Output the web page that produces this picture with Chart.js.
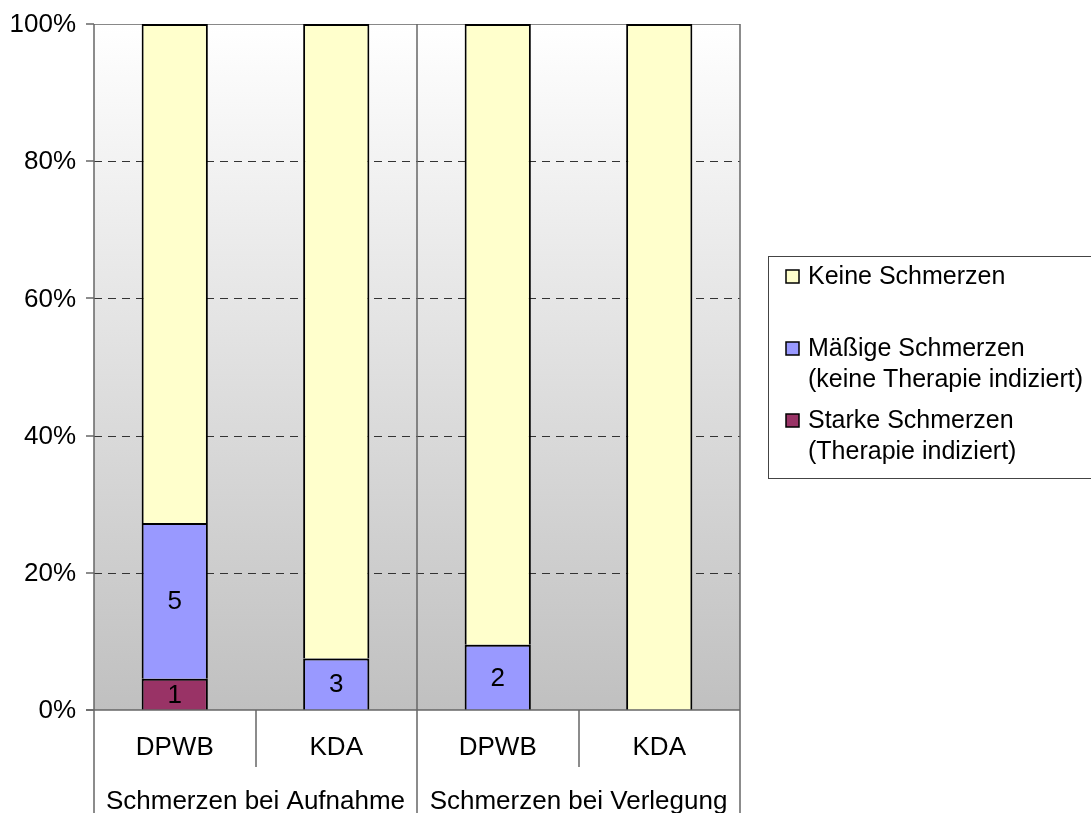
<!DOCTYPE html>
<html>
<head>
<meta charset="utf-8">
<script src="https://cdn.jsdelivr.net/npm/chart.js@4/dist/chart.umd.min.js"></script>
<style>
  html, body { margin: 0; padding: 0; background: #fff; }
  #wrap { width: 1091px; height: 813px; }
</style>
</head>
<body>
<div id="wrap"><canvas id="painChart" width="1091" height="813"></canvas></div>
<script>
// patient counts per group (bottom to top of each stack)
const categories = ['DPWB', 'KDA', 'DPWB', 'KDA'];
const groups = ['Schmerzen bei Aufnahme', 'Schmerzen bei Verlegung'];
const starke = [1, 0, 0, 0];
const maessige = [5, 3, 2, 0];
const keine = [16, 37, 19, 40];
const yTicks = [0, 20, 40, 60, 80, 100];

const FONT = '"Liberation Sans", Arial, sans-serif';
const totals = categories.map((_, i) => starke[i] + maessige[i] + keine[i]);
const pct = arr => arr.map((v, i) => v / totals[i] * 100);

const legendItems = [
  { color: '#FFFFCC', lines: ['Keine Schmerzen'], y: 277 },
  { color: '#9999FF', lines: ['Mäßige Schmerzen', '(keine Therapie indiziert)'], y: 349 },
  { color: '#993366', lines: ['Starke Schmerzen', '(Therapie indiziert)'], y: 421 }
];

function setText(ctx, size) {
  ctx.font = size + 'px ' + FONT;
  ctx.fillStyle = '#000';
  ctx.textBaseline = 'middle';
}

// gradient plot background, grid lines and axis frame
const backdrop = {
  id: 'backdrop',
  beforeDatasetsDraw(chart) {
    const { ctx, chartArea: a, scales: { y } } = chart;
    ctx.save();
    const g = ctx.createLinearGradient(0, a.top, 0, a.bottom);
    g.addColorStop(0, '#ffffff');
    g.addColorStop(1, '#c0c0c0');
    ctx.fillStyle = g;
    ctx.fillRect(a.left, a.top, a.right - a.left, a.bottom - a.top);

    ctx.lineWidth = 1;
    ctx.strokeStyle = '#333';
    ctx.setLineDash([8, 6]);
    yTicks.slice(1, -1).forEach(t => {
      const py = Math.round(y.getPixelForValue(t)) + 0.5;
      ctx.beginPath();
      ctx.moveTo(a.left, py);
      ctx.lineTo(a.right, py);
      ctx.stroke();
    });
    ctx.setLineDash([]);

    ctx.strokeStyle = '#888';
    const top = Math.round(a.top) + 0.5;
    ctx.beginPath();
    ctx.moveTo(a.left, top);
    ctx.lineTo(a.right, top);
    ctx.stroke();
    ctx.restore();
  },
  afterDatasetsDraw(chart) {
    const { ctx, chartArea: a, scales: { x, y } } = chart;
    const H = chart.height;
    ctx.save();
    ctx.strokeStyle = '#666';
    ctx.lineWidth = 1.5;
    // group separators run through the plot and down past the labels
    const step = x.getPixelForValue(1) - x.getPixelForValue(0);
    const edges = [a.left, x.getPixelForValue(1) + step / 2, a.right];
    edges.forEach(px => {
      ctx.beginPath();
      ctx.moveTo(Math.round(px), a.top);
      ctx.lineTo(Math.round(px), H);
      ctx.stroke();
    });
    // short separators between the categories inside a group
    [0, 2].forEach(i => {
      const px = Math.round(x.getPixelForValue(i) + step / 2);
      ctx.beginPath();
      ctx.moveTo(px, a.bottom);
      ctx.lineTo(px, a.bottom + 57);
      ctx.stroke();
    });
    // x axis and y tick marks
    ctx.beginPath();
    ctx.moveTo(a.left - 8, a.bottom);
    ctx.lineTo(a.right, a.bottom);
    ctx.stroke();
    yTicks.forEach(t => {
      const py = Math.round(y.getPixelForValue(t));
      ctx.beginPath();
      ctx.moveTo(a.left - 8, py);
      ctx.lineTo(a.left, py);
      ctx.stroke();
    });

    setText(ctx, 26);
    // y tick labels
    ctx.textAlign = 'right';
    yTicks.forEach(t => {
      ctx.fillText(t + '%', a.left - 18, y.getPixelForValue(t) + 1);
    });

    // count labels on the pain segments
    ctx.textAlign = 'center';
    [0, 1].forEach(di => {
      const counts = di === 0 ? starke : maessige;
      chart.getDatasetMeta(di).data.forEach((bar, i) => {
        if (!counts[i]) return;
        ctx.fillText(String(counts[i]), bar.x, (bar.y + bar.base) / 2 + 1);
      });
    });

    // category and group labels
    categories.forEach((c, i) => {
      ctx.fillText(c, x.getPixelForValue(i), a.bottom + 38);
    });
    groups.forEach((g, gi) => {
      const cx = (x.getPixelForValue(gi * 2) + x.getPixelForValue(gi * 2 + 1)) / 2;
      ctx.fillText(g, cx, a.bottom + 92);
    });
    ctx.restore();
  },
  afterDraw(chart) {
    const { ctx } = chart;
    ctx.save();
    ctx.fillStyle = '#fff';
    ctx.fillRect(768, 256, 340, 222);
    ctx.strokeStyle = '#444';
    ctx.lineWidth = 1;
    ctx.strokeRect(768.5, 256.5, 340, 222);
    legendItems.forEach(item => {
      ctx.fillStyle = item.color;
      ctx.fillRect(786, item.y - 7, 13, 13);
      ctx.strokeStyle = '#000';
      ctx.lineWidth = 1.5;
      ctx.strokeRect(786, item.y - 7, 13, 13);
      setText(ctx, 25);
      ctx.textAlign = 'left';
      item.lines.forEach((line, li) => {
        ctx.fillText(line, 808, item.y + li * 31);
      });
    });
    ctx.restore();
  }
};

const segBorder = { top: 2, left: 2, right: 2, bottom: 0 };

new Chart(document.getElementById('painChart'), {
  type: 'bar',
  data: {
    labels: categories,
    datasets: [
      { label: 'Starke Schmerzen (Therapie indiziert)', data: pct(starke), backgroundColor: '#993366' },
      { label: 'Mäßige Schmerzen (keine Therapie indiziert)', data: pct(maessige), backgroundColor: '#9999FF' },
      { label: 'Keine Schmerzen', data: pct(keine), backgroundColor: '#FFFFCC' }
    ].map(d => Object.assign(d, {
      borderColor: '#000',
      borderWidth: segBorder,
      borderSkipped: false,
      categoryPercentage: 1,
      barPercentage: 0.41
    }))
  },
  options: {
    responsive: false,
    animation: false,
    layout: { padding: { top: 24, right: 351, left: 0, bottom: 0 } },
    plugins: { legend: { display: false }, tooltip: { enabled: false } },
    scales: {
      x: {
        stacked: true,
        grid: { display: false },
        border: { display: false },
        ticks: { display: false },
        afterFit(scale) { scale.height = 103; }
      },
      y: {
        stacked: true,
        min: 0,
        max: 100,
        grid: { display: false },
        border: { display: false },
        ticks: { display: false, stepSize: 20 },
        afterFit(scale) { scale.width = 94; }
      }
    }
  },
  plugins: [backdrop]
});
</script>
</body>
</html>
